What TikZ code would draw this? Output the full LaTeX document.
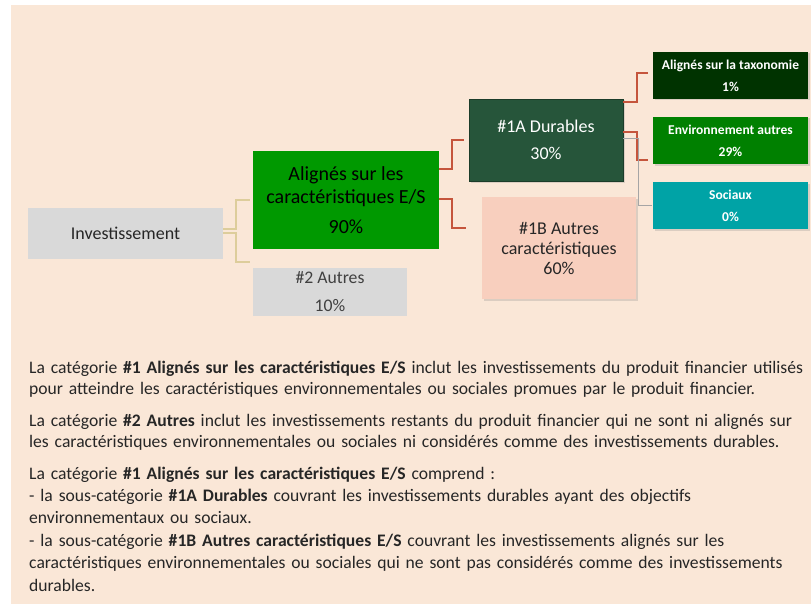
\documentclass[tikz,border=0pt]{standalone}
\usepackage{fontspec}
\setmainfont{Carlito}
\usetikzlibrary{shadows,calc}
\definecolor{bgpeach}{RGB}{250,231,215}
\definecolor{boxgray}{RGB}{217,217,217}
\definecolor{aligngreen}{RGB}{0,153,0}
\definecolor{durgreen}{RGB}{38,85,58}
\definecolor{autpink}{RGB}{248,207,190}
\definecolor{taxgreen}{RGB}{0,51,0}
\definecolor{envgreen}{RGB}{0,128,0}
\definecolor{socteal}{RGB}{0,163,166}
\definecolor{tanline}{RGB}{221,205,155}
\definecolor{redline}{RGB}{197,85,60}
\definecolor{grayline}{RGB}{165,165,165}
\definecolor{txtdark}{RGB}{38,38,38}
\definecolor{txtgray}{RGB}{64,64,64}
\newcommand{\fsz}[2]{\fontsize{#1pt}{#2pt}\selectfont}
\begin{document}
\begin{tikzpicture}[x=1pt,y=-1pt,
  box/.style={draw=none, inner sep=0pt, align=center},
  shad/.style={drop shadow={opacity=0.25, shadow xshift=1.5pt, shadow yshift=-1.5pt}},
  smallbox/.style={box, shad, minimum width=155pt, minimum height=47pt, text=white,
    font=\fsz{13.5}{22}\bfseries},
  tanc/.style={draw=tanline, line width=1.5pt},
  redc/.style={draw=redline, line width=1.5pt},
  grayc/.style={draw=grayline, line width=1pt},
  para/.style={anchor=base west, inner sep=0pt, align=left, text width=800pt, text=txtdark}]
\useasboundingbox (0,0) rectangle (811,607);
\fill[bgpeach] (11,5) rectangle (811,604);

\node[box, fill=boxgray, minimum width=195pt, minimum height=51pt, text=txtdark,
  font=\fsz{18}{21}] (inv) at (125.5,233.5) {Investissement};
\node[box, fill=aligngreen, minimum width=186pt, minimum height=98pt, text=black,
  font=\fsz{20}{23}] (al) at (346,200) {Alignés sur les\\caractéristiques E/S\\[7pt]90\%};
\node[box, fill=boxgray, minimum width=154pt, minimum height=48pt, text=txtgray,
  font=\fsz{17.7}{28}] (aut) at (330,292) {\#2 Autres\\10\%};
\node[box, shad, fill=durgreen, draw=durgreen!70!black, minimum width=154pt, minimum height=82pt,
  text=white, font=\fsz{18}{27}] (dur) at (546,140) {\#1A Durables\\30\%};
\node[box, shad, fill=autpink, minimum width=154pt, minimum height=102pt, text=txtdark,
  font=\fsz{18}{20}] (b1) at (559,248) {\#1B Autres\\caractéristiques\\60\%};
\node[smallbox, fill=taxgreen] (tax) at (730.5,75.5) {Alignés sur la taxonomie\\1\%};
\node[smallbox, fill=envgreen] (env) at (730.5,140.5) {Environnement autres\\29\%};
\node[smallbox, fill=socteal] (soc) at (730.5,205.5) {Sociaux\\0\%};

% connectors
\draw[tanc] ([yshift=4.5pt]inv.east) -- ++(13,0) |- ([xshift=-3pt]al.west);
\draw[tanc] ([yshift=0.5pt]inv.east) -- ++(13,0) |- ([xshift=-3pt,yshift=30pt]aut.west);
\draw[redc] ([yshift=31pt]al.east) -- ++(13,0) |- ([xshift=-5pt]dur.west);
\draw[redc] ([yshift=1pt]al.east) -- ++(13,0) |- ([xshift=-16pt,yshift=20pt]b1.west);
\draw[redc] ([yshift=38pt]dur.east) -- ++(14,0) |- ([xshift=-5pt,yshift=2.5pt]tax.west);
\draw[redc] ([yshift=8pt]dur.east) -- ++(14,0) |- ([xshift=-5pt,yshift=-19.5pt]env.west);
\draw[grayc] ([yshift=1pt]dur.east) -- ++(15,0) |- ([xshift=-1pt]soc.west);

% text
\node[para, font=\fsz{17.6}{21.5}] (p1) at (29,373) {La catégorie \textbf{\#1 Alignés sur les caractéristiques E/S} inclut les investissements du produit financier utilisés\\
pour atteindre les caractéristiques environnementales ou sociales promues par le produit financier.};
\node[para, font=\fsz{17.6}{21.5}] (p2) at (29,426) {La catégorie \textbf{\#2 Autres} inclut les investissements restants du produit financier qui ne sont ni alignés sur\\
les caractéristiques environnementales ou sociales ni considérés comme des investissements durables.};
\node[para, font=\fsz{17.6}{22.4}] (p3) at (29,479) {La catégorie \textbf{\#1 Alignés sur les caractéristiques E/S} comprend :\\
- la sous-catégorie \textbf{\#1A Durables} couvrant les investissements durables ayant des objectifs\\
environnementaux ou sociaux.\\
- la sous-catégorie \textbf{\#1B Autres caractéristiques E/S} couvrant les investissements alignés sur les\\
caractéristiques environnementales ou sociales qui ne sont pas considérés comme des investissements\\
durables.};
\end{tikzpicture}
\end{document}
